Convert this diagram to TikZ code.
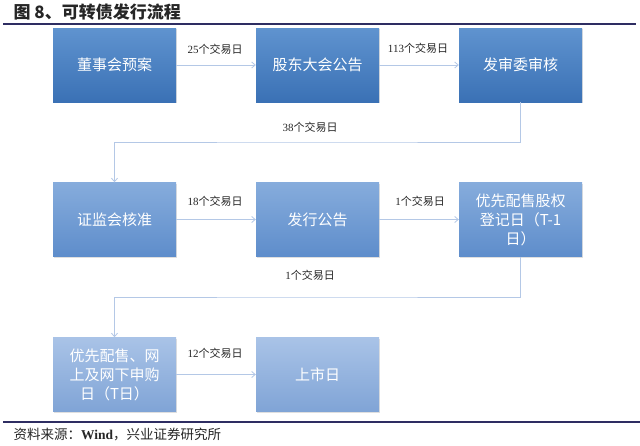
\documentclass[tikz,border=0pt]{standalone}
\usepackage{fontspec}
\setmainfont{Liberation Serif}
\newfontfamily\cjk{Noto Sans CJK SC}
\usetikzlibrary{arrows.meta}
\usetikzlibrary{shadows}

\definecolor{titlenavy}{HTML}{2E2D62}
\definecolor{flowblue}{HTML}{B4C8E6}
\definecolor{darktop}{HTML}{5F93CF}
\definecolor{darkbot}{HTML}{3A71B5}
\definecolor{midtop}{HTML}{86ACDC}
\definecolor{midbot}{HTML}{5E8DCB}
\definecolor{lighttop}{HTML}{A9C3E7}
\definecolor{lightbot}{HTML}{80A4D6}

\newcommand{\ndays}[1]{#1{\cjk 个交易日}}

\begin{document}
\begin{tikzpicture}[x=1pt, y=-1pt]
\tikzset{box/.style = {rectangle, minimum width=123pt, minimum height=74pt, align=center,
  text=white, font=\cjk\fontsize{15}{19}\selectfont,
  drop shadow={opacity=.25, shadow xshift=1.2pt, shadow yshift=-1.2pt}}}
\tikzset{rowone/.style = {box, top color=darktop, bottom color=darkbot}}
\tikzset{rowtwo/.style = {box, top color=midtop, bottom color=midbot}}
\tikzset{rowthree/.style = {box, top color=lighttop, bottom color=lightbot}}
\tikzset{edge/.style = {-{Straight Barb[length=3.5pt, width=6pt]}, draw=flowblue, line width=.8pt}}
\tikzset{days/.style = {font=\fontsize{11}{13}\selectfont, text=black!85}}

\useasboundingbox (0,0) rectangle (640,445);

% title and rules
\node[anchor=west, font=\cjk\bfseries\fontsize{17}{20}\selectfont, text=black!85] (title) at (10,12) {图 8、可转债发行流程};
\draw[titlenavy, line width=2pt] (3,24) -- (636,24);
\draw[titlenavy, line width=1.6pt] (3,422) -- (640,422);
\node[anchor=west, font=\cjk\fontsize{13.5}{16}\selectfont, text=black!85] (source) at (10,434) {资料来源：{\rmfamily\bfseries Wind}，兴业证券研究所};

% boxes
\node[rowone] (board) at (114.5,65) {董事会预案};
\node[rowone] (meeting) at (317.5,65) {股东大会公告};
\node[rowone] (review) at (520.5,65) {发审委审核};

\node[rowtwo] (csrc) at (114.5,219.5) {证监会核准};
\node[rowtwo] (notice) at (317.5,219.5) {发行公告};
\node[rowtwo] (record) at (520.5,219.5) {优先配售股权\\登记日（T-1\\日）};

\node[rowthree] (subscribe) at (114.5,374.5) {优先配售、网\\上及网下申购\\日（T日）};
\node[rowthree] (listing) at (317.5,374.5) {上市日};

% connectors
\coordinate (turnone) at (317,142);
\coordinate (turntwo) at (317,297);

\draw[edge] (board) -- (meeting);
\draw[edge] (meeting) -- (review);
\draw[edge] (review.south) |- (turnone) -| (csrc.north);
\draw[edge] (csrc) -- (notice);
\draw[edge] (notice) -- (record);
\draw[edge] (record.south) |- (turntwo) -| (subscribe.north);
\draw[edge] (subscribe) -- (listing);

% day counts
\node[days] (done) at (215,49) {\ndays{25}};
\node[days] (dtwo) at (418,48) {\ndays{113}};
\node[days] (dthree) at (310,127) {\ndays{38}};
\node[days] (dfour) at (215,201) {\ndays{18}};
\node[days] (dfive) at (420,201) {\ndays{1}};
\node[days] (dsix) at (310,275) {\ndays{1}};
\node[days] (dseven) at (215,353) {\ndays{12}};

\end{tikzpicture}
\end{document}
